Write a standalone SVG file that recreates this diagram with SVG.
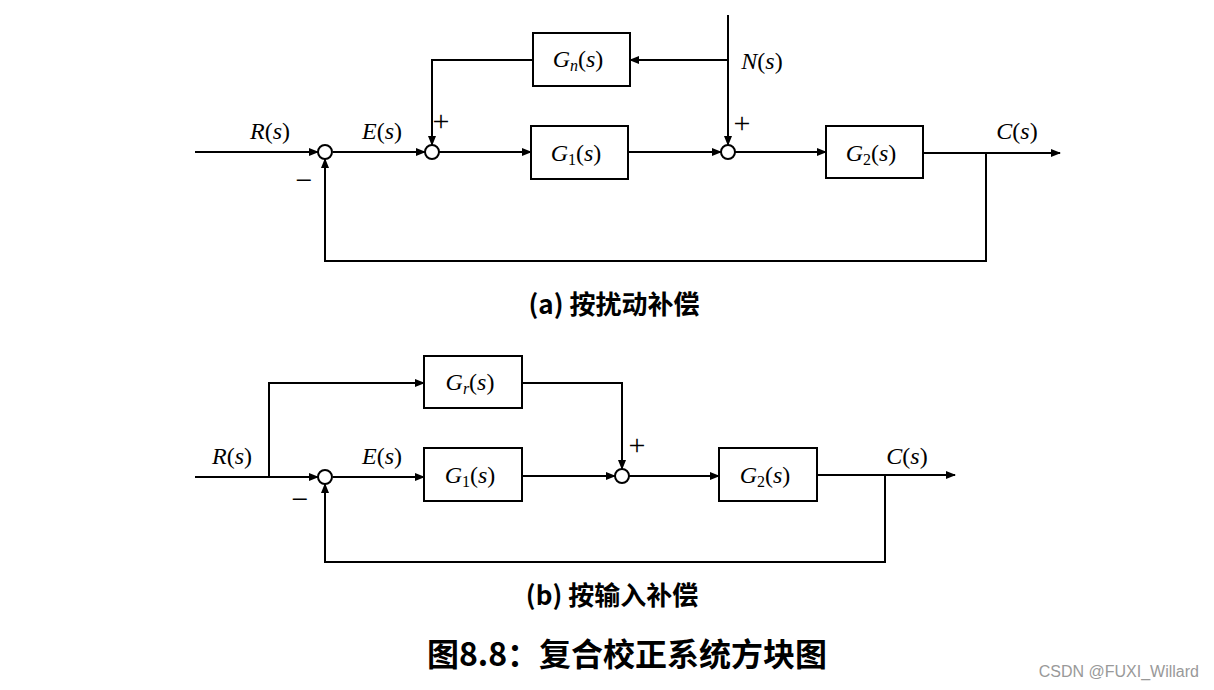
<svg xmlns="http://www.w3.org/2000/svg" width="1214" height="690" viewBox="0 0 1214 690">
<defs>
<marker id="ah" markerWidth="10" markerHeight="8" refX="9" refY="4" orient="auto" markerUnits="userSpaceOnUse">
<path d="M0,0 L10,4 L0,8 z" fill="#000"/>
</marker>
<style>
.box{fill:#fff;stroke:#000;stroke-width:2}
.sum{fill:#fff;stroke:#000;stroke-width:2}
.ln{fill:none;stroke:#000;stroke-width:2}
.arr{fill:none;stroke:#000;stroke-width:2;marker-end:url(#ah)}
.m{font-family:"Liberation Serif","DejaVu Serif",serif;font-size:24px;fill:#000}
.i{font-style:italic}
.sub{font-size:16px}
.sg{font-family:"Liberation Serif","DejaVu Serif",serif;font-size:30px;fill:#000}
.cap{font-family:"Noto Sans CJK SC","Noto Sans",sans-serif;font-weight:bold;fill:#000;text-anchor:middle}
</style>
</defs>
<rect width="1214" height="690" fill="#fff"/>

<g id="connectors">
<!-- (a) -->
<line class="arr" x1="195" y1="152" x2="318" y2="152"/>
<line class="arr" x1="333" y1="152" x2="425" y2="152"/>
<polyline class="arr" points="533,60 432,60 432,145"/>
<line class="arr" x1="439" y1="152" x2="531" y2="152"/>
<line class="arr" x1="628" y1="152" x2="721" y2="152"/>
<line class="ln" x1="728" y1="15" x2="728" y2="60"/>
<line class="arr" x1="728" y1="60" x2="728" y2="145"/>
<line class="arr" x1="728" y1="60" x2="630" y2="60"/>
<line class="arr" x1="735" y1="152" x2="826" y2="152"/>
<line class="arr" x1="923" y1="153" x2="1060" y2="153"/>
<polyline class="arr" points="986,153 986,261 325,261 325,159"/>
<!-- (b) -->
<line class="arr" x1="195" y1="477" x2="318" y2="477"/>
<polyline class="arr" points="269,477 269,383 424,383"/>
<line class="arr" x1="333" y1="477" x2="424" y2="477"/>
<polyline class="arr" points="522,383 622,383 622,469"/>
<line class="arr" x1="522" y1="476" x2="615" y2="476"/>
<line class="arr" x1="629" y1="476" x2="719" y2="476"/>
<line class="arr" x1="817" y1="475" x2="955" y2="475"/>
<polyline class="arr" points="885,475 885,562 325,562 325,484"/>
</g>

<g id="sum_a1"><circle class="sum" cx="325" cy="152" r="7"/></g>
<g id="sum_a2"><circle class="sum" cx="432" cy="152" r="7"/></g>
<g id="sum_a3"><circle class="sum" cx="728" cy="152" r="7"/></g>
<g id="sum_b1"><circle class="sum" cx="325" cy="477" r="7"/></g>
<g id="sum_b2"><circle class="sum" cx="622" cy="476" r="7"/></g>

<g id="Gn"><rect class="box" x="533" y="33" width="97" height="53"/>
<text class="m" x="578" y="67" text-anchor="middle"><tspan class="i">G</tspan><tspan class="i sub" dy="4">n</tspan><tspan dy="-4">(</tspan><tspan class="i">s</tspan>)</text></g>
<g id="G1a"><rect class="box" x="531" y="126" width="97" height="53"/>
<text class="m" x="576" y="161" text-anchor="middle"><tspan class="i">G</tspan><tspan class="sub" dy="4">1</tspan><tspan dy="-4">(</tspan><tspan class="i">s</tspan>)</text></g>
<g id="G2a"><rect class="box" x="826" y="126" width="97" height="52"/>
<text class="m" x="871" y="161" text-anchor="middle"><tspan class="i">G</tspan><tspan class="sub" dy="4">2</tspan><tspan dy="-4">(</tspan><tspan class="i">s</tspan>)</text></g>

<g id="Gr"><rect class="box" x="424" y="356" width="98" height="52"/>
<text class="m" x="470" y="390" text-anchor="middle"><tspan class="i">G</tspan><tspan class="i sub" dy="4">r</tspan><tspan dy="-4">(</tspan><tspan class="i">s</tspan>)</text></g>
<g id="G1b"><rect class="box" x="424" y="448" width="98" height="53"/>
<text class="m" x="470" y="483" text-anchor="middle"><tspan class="i">G</tspan><tspan class="sub" dy="4">1</tspan><tspan dy="-4">(</tspan><tspan class="i">s</tspan>)</text></g>
<g id="G2b"><rect class="box" x="719" y="448" width="98" height="53"/>
<text class="m" x="765" y="483" text-anchor="middle"><tspan class="i">G</tspan><tspan class="sub" dy="4">2</tspan><tspan dy="-4">(</tspan><tspan class="i">s</tspan>)</text></g>

<g id="labels">
<text class="m" x="270" y="139" text-anchor="middle"><tspan class="i">R</tspan>(<tspan class="i">s</tspan>)</text>
<text class="m" x="382" y="139" text-anchor="middle"><tspan class="i">E</tspan>(<tspan class="i">s</tspan>)</text>
<text class="m" x="762" y="69" text-anchor="middle"><tspan class="i">N</tspan>(<tspan class="i">s</tspan>)</text>
<text class="m" x="1017" y="139" text-anchor="middle"><tspan class="i">C</tspan>(<tspan class="i">s</tspan>)</text>
<text class="sg" x="441" y="131" text-anchor="middle">+</text>
<text class="sg" x="742" y="133" text-anchor="middle">+</text>
<text class="sg" x="304" y="190" text-anchor="middle">−</text>

<text class="m" x="232" y="464" text-anchor="middle"><tspan class="i">R</tspan>(<tspan class="i">s</tspan>)</text>
<text class="m" x="382" y="464" text-anchor="middle"><tspan class="i">E</tspan>(<tspan class="i">s</tspan>)</text>
<text class="m" x="907" y="464" text-anchor="middle"><tspan class="i">C</tspan>(<tspan class="i">s</tspan>)</text>
<text class="sg" x="637" y="455" text-anchor="middle">+</text>
<text class="sg" x="300" y="509" text-anchor="middle">−</text>

<text class="cap" x="614" y="314" font-size="26">(a) 按扰动补偿</text>
<text class="cap" x="612" y="605" font-size="26">(b) 按输入补偿</text>
<text class="cap" x="627" y="666" font-size="32">图8.8：复合校正系统方块图</text>
<text x="1199" y="677" text-anchor="end" font-family="'Liberation Sans',Arial,sans-serif" font-size="16" fill="#999">CSDN @FUXI_Willard</text>
</g>
</svg>
